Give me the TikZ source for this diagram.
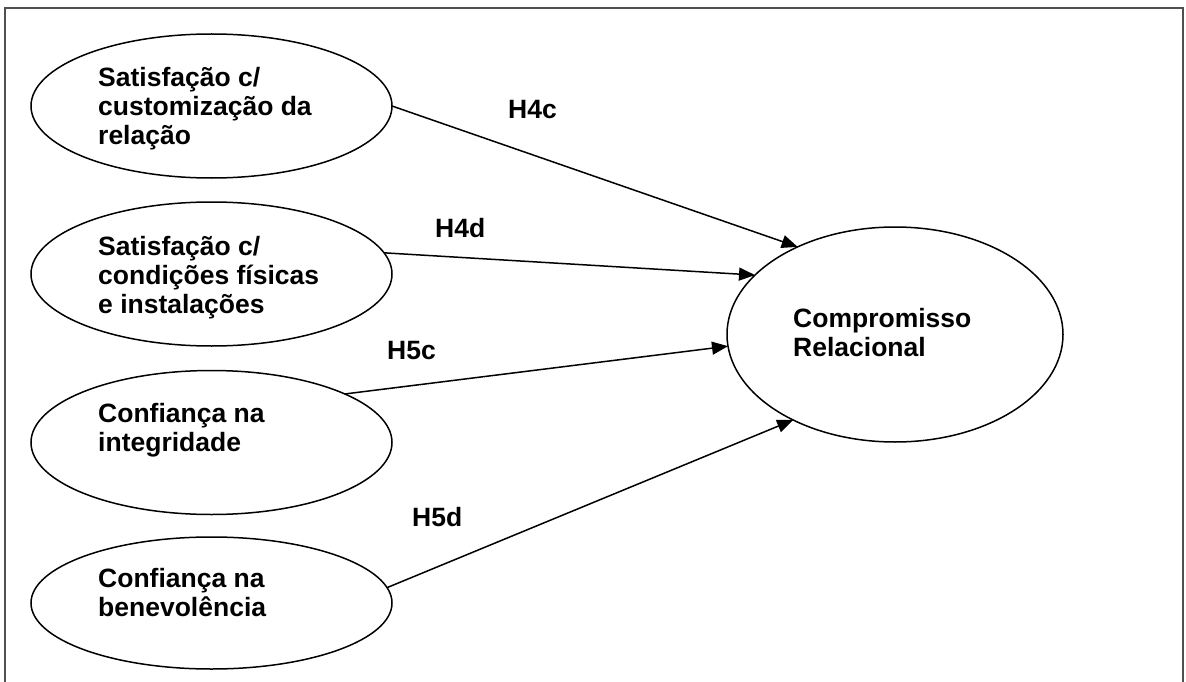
\documentclass[tikz,border=0pt]{standalone}
\usepackage{fontspec}
\setmainfont{Liberation Sans}
\usetikzlibrary{arrows.meta,shapes.geometric}
\definecolor{framegray}{HTML}{505050}
\begin{document}
\begin{tikzpicture}[x=1pt,y=-1pt,
  ell/.style={draw, ellipse, line width=1.5pt, inner sep=0pt, outer sep=0pt,
              minimum width=361pt, minimum height=144pt},
  lbl/.style={font=\fontsize{26.5}{29}\selectfont\bfseries, inner sep=0pt,
              anchor=north west, align=left},
  hyp/.style={font=\fontsize{26.5}{29}\selectfont\bfseries, inner sep=0pt,
              anchor=base west},
  conn/.style={line width=1.5pt, -{Triangle[length=16pt,width=13pt]}},
  frame/.style={draw=framegray, line width=2pt}]
\useasboundingbox (0,0) rectangle (1186,682);
\draw[frame] (5,700) -- (5,8.5) -- (1183,8.5) -- (1183,700);

\node[ell] (e1) at (211.5,106) {};
\node[ell] (e2) at (211.5,274) {};
\node[ell] (e3) at (211.5,442.5) {};
\node[ell, minimum height=132pt] (e4) at (211.5,603) {};
\node[ell, minimum width=336pt, minimum height=215pt] (R) at (895,334.5) {};

\node[lbl] (t1) at (98,64.7) {\rule{0pt}{22pt}Satisfação c/\\customização da\\relação};
\node[lbl] (t2) at (98,233) {\rule{0pt}{22pt}Satisfação c/\\condições físicas\\e instalações};
\node[lbl] (t3) at (98,400.5) {\rule{0pt}{22pt}Confiança na\\integridade};
\node[lbl] (t4) at (98,565) {\rule{0pt}{22pt}Confiança na\\benevolência};
\node[lbl] (tR) at (793,305.5) {\rule{0pt}{22pt}Compromisso\\Relacional};

\node[hyp] (h4c) at (508,119) {H4c};
\node[hyp] (h4d) at (435,237) {H4d};
\node[hyp] (h5c) at (387,359) {H5c};
\node[hyp] (h5d) at (412,526) {H5d};

\draw[conn] (e1.east) -- (R.138.3);
\draw[conn] (e2.7.4) -- (R.157);
\draw[conn] (e3.20.2) -- (R.184.3);
\draw[conn] (e4.5.4) -- (R.220.4);
\end{tikzpicture}
\end{document}
